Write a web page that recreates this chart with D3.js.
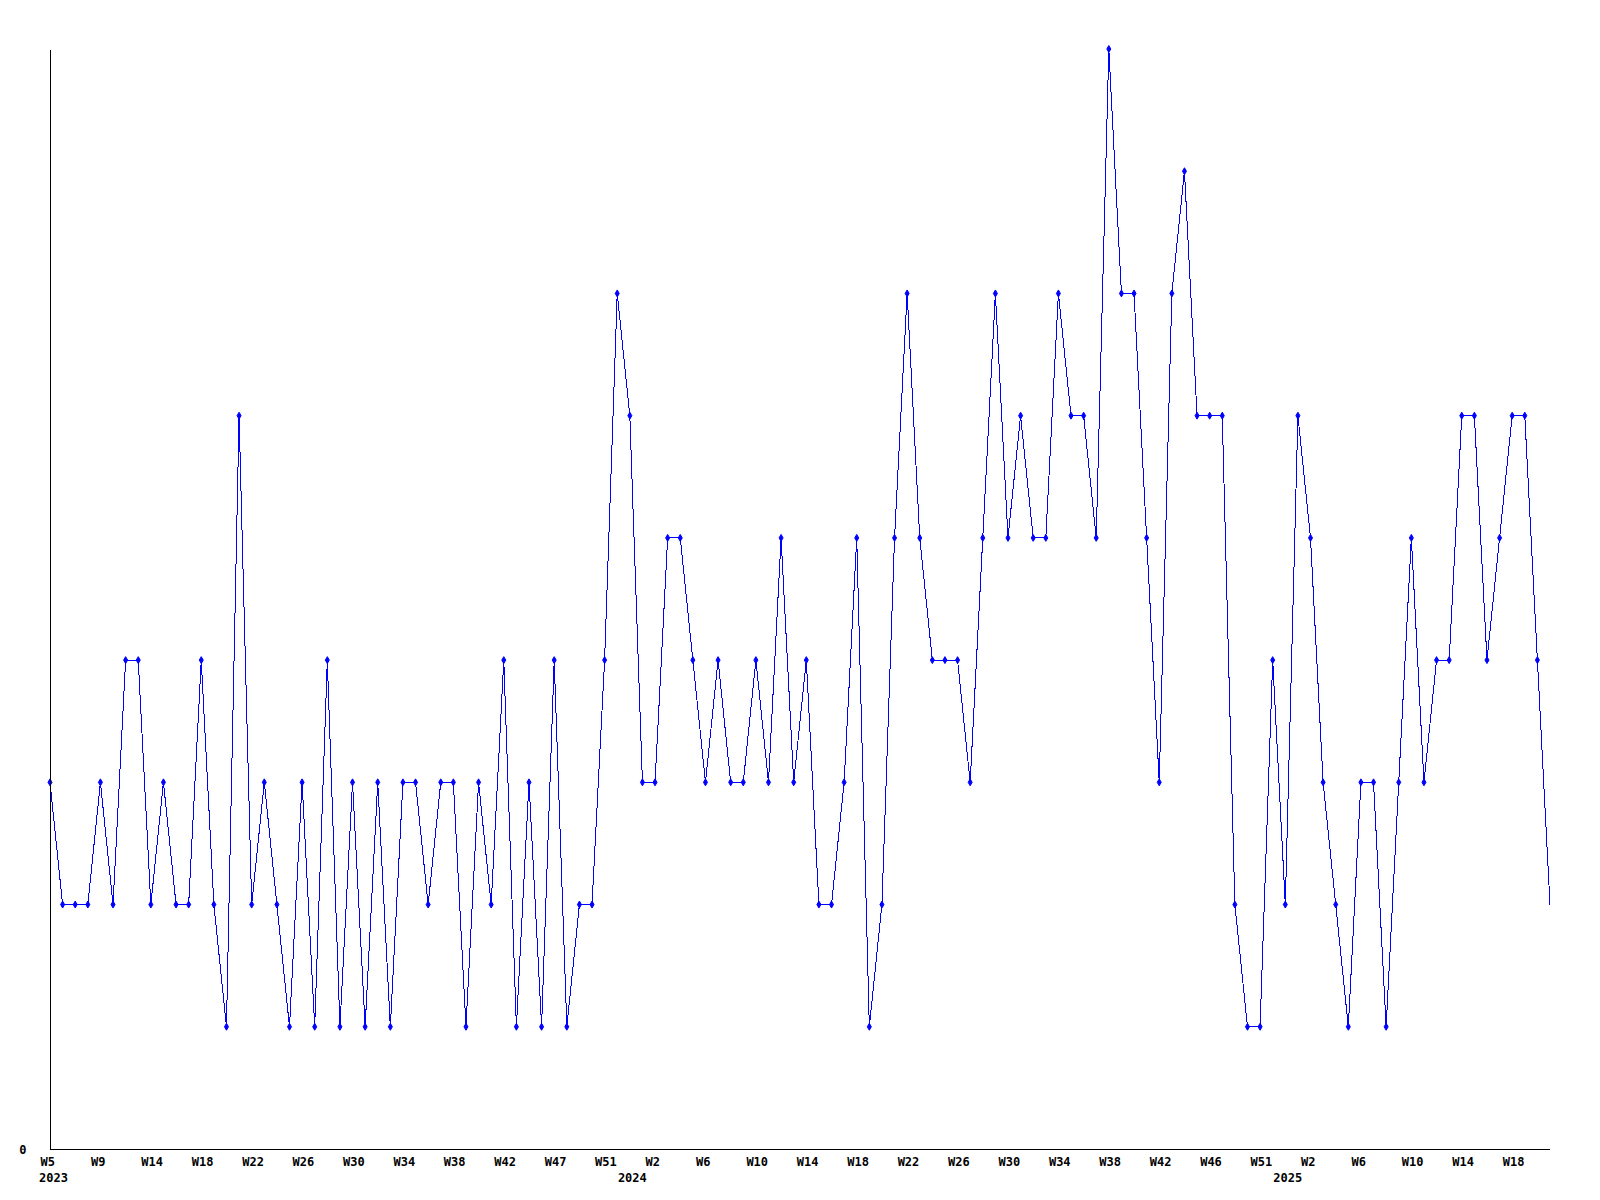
<!DOCTYPE html>
<html>
<head>
<meta charset="utf-8">
<script src="https://cdn.jsdelivr.net/npm/d3@7"></script>
<style>
  html, body { margin: 0; padding: 0; background: #fff; }
  svg text { font-family: "DejaVu Sans Mono", "Liberation Mono", monospace; font-weight: bold; font-size: 12px; fill: #000; }
</style>
</head>
<body>
<svg id="chart" width="1600" height="1200"></svg>
<script>
// Weekly values (120 points, one per x position)
const values = [
  3, 2, 2, 2, 3, 2, 4, 4, 2, 3,
  2, 2, 4, 2, 1, 6, 2, 3, 2, 1,
  3, 1, 4, 1, 3, 1, 3, 1, 3, 3,
  2, 3, 3, 1, 3, 2, 4, 1, 3, 1,
  4, 1, 2, 2, 4, 7, 6, 3, 3, 5,
  5, 4, 3, 4, 3, 3, 4, 3, 5, 3,
  4, 2, 2, 3, 5, 1, 2, 5, 7, 5,
  4, 4, 4, 3, 5, 7, 5, 6, 5, 5,
  7, 6, 6, 5, 9, 7, 7, 5, 3, 7,
  8, 6, 6, 6, 2, 1, 1, 4, 2, 6,
  5, 3, 2, 1, 3, 3, 1, 3, 5, 3,
  4, 4, 6, 6, 4, 5, 6, 6, 4, 2
];
// Week tick labels, one every 4 points starting at point 0
const tickLabels = [
  "W5", "W9", "W14", "W18", "W22", "W26", "W30", "W34", "W38", "W42",
  "W47", "W51", "W2", "W6", "W10", "W14", "W18", "W22", "W26", "W30",
  "W34", "W38", "W42", "W46", "W51", "W2", "W6", "W10", "W14", "W18"
];
const tickStep = 4;
// Year labels and the (fractional) point index they are centred on
const yearLabels = ["2023", "2024", "2025"];
const yearPositions = [0.28, 46.2, 98.2];
const yTicks = [0];
const yMax = 9;

(function () {
const svg = d3.select("#chart");
const mLeft = 50, mRight = 1550, mTop = 49, mBottom = 1149;

const x = d3.scaleLinear().domain([0, values.length - 1]).range([mLeft, mRight]);
const y = d3.scaleLinear().domain([0, yMax]).range([mBottom, mTop]);

// Line
const line = d3.line().x((d, i) => x(i)).y(d => y(d));
svg.append("path")
  .datum(values)
  .attr("d", line)
  .attr("fill", "none")
  .attr("stroke", "#0000ff")
  .attr("stroke-width", 1)
  .attr("shape-rendering", "crispEdges");

// Markers (last point has none in the reference)
const sym = d3.symbol().type(d3.symbolDiamond).size(14);
svg.append("g").selectAll("path")
  .data(values.slice(0, values.length - 1))
  .join("path")
  .attr("d", sym)
  .attr("transform", (d, i) => `translate(${x(i)},${y(d)})`)
  .attr("fill", "#0000ff")
  .attr("stroke", "#0000ff")
  .attr("stroke-width", 1);

// Bottom axis
const tickIdx = tickLabels.map((t, i) => i * tickStep);
const xAxis = d3.axisBottom(x)
  .tickValues(tickIdx)
  .tickFormat((d, i) => tickLabels[i])
  .tickSize(0)
  .tickPadding(8);
const gx = svg.append("g").attr("transform", `translate(0,${mBottom + 0.5})`).call(xAxis);
gx.select(".domain").attr("stroke", "#000").attr("d", `M${mLeft},0H${mRight}`);
gx.selectAll("text").style("font-size", "12px").attr("fill", "#000")
  .attr("text-anchor", "start").attr("dx", -10);

// Year labels
svg.append("g").selectAll("text")
  .data(yearLabels)
  .join("text")
  .attr("x", (d, i) => x(yearPositions[i]))
  .attr("y", mBottom + 33)
  .attr("text-anchor", "middle")
  .text(d => d);

// Left axis
const yAxis = d3.axisLeft(y).tickValues(yTicks).tickFormat(d3.format("d")).tickSize(0).tickPadding(24);
const gy = svg.append("g").attr("transform", `translate(${mLeft + 0.5},0)`).call(yAxis);
gy.select(".domain").attr("stroke", "#000").attr("d", `M0,${mTop + 1}V${mBottom}`);
gy.selectAll("text").attr("dy", "0.35em").attr("fill", "#000");
})();
</script>
</body>
</html>
